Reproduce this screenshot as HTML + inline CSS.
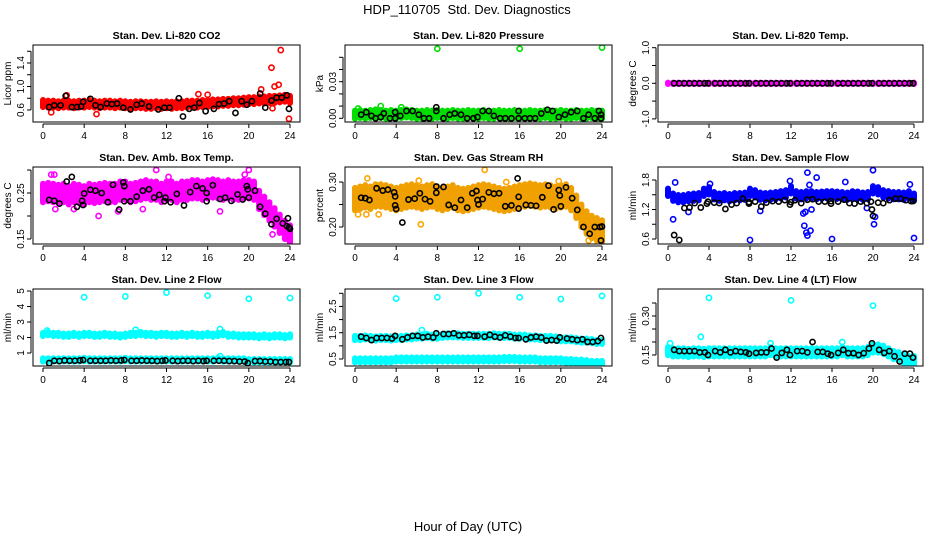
<!DOCTYPE html>
<html><head><meta charset="utf-8"><style>
html,body{margin:0;padding:0;background:#fff;}
svg{display:block;font-family:"Liberation Sans",Arial,sans-serif;}
</style></head><body>
<svg id="c" width="936" height="540" viewBox="0 0 936 540">
<text x="467" y="14" font-size="13" text-anchor="middle" style="white-space:pre">HDP_110705  Std. Dev. Diagnostics</text>
<text x="468" y="531" font-size="13" text-anchor="middle">Hour of Day (UTC)</text>
</svg>
<script>
// ---- shared data ----
const xTicks=[0,4,8,12,16,20,24];
const bandTimes=[0,0.5,1,1.5,2,2.5,3,3.5,4,4.5,5,5.5,6,6.5,7,7.5,8,8.5,9,9.5,10,10.5,11,11.5,12,12.5,13,13.5,14,14.5,15,15.5,16,16.5,17,17.5,18,18.5,19,19.5,20,20.5,21,21.5,22,22.5,23,23.5,24];

// ---- panel 1: CO2 ----
const co2Band=[0.71,0.70,0.70,0.69,0.70,0.70,0.69,0.70,0.70,0.71,0.70,0.69,0.70,0.70,0.69,0.70,0.69,0.68,0.69,0.69,0.68,0.68,0.69,0.68,0.69,0.68,0.69,0.69,0.70,0.70,0.70,0.71,0.71,0.72,0.72,0.73,0.73,0.74,0.74,0.75,0.76,0.76,0.77,0.77,0.78,0.78,0.79,0.80,0.78];
const co2Out=[[22.2,1.32],[23.1,1.62],[22.5,1.0],[22.9,1.03],[23.9,0.45],[15.1,0.87],[5.2,0.53],[2.3,0.85],[21.2,0.95],[22.3,0.63],[16,0.86],[0.8,0.56]];
const co2Black=[[0.6,0.65],[1.1,0.68],[1.7,0.68],[2.2,0.84],[2.8,0.65],[3.3,0.65],[3.7,0.66],[3.9,0.74],[4.6,0.79],[5.1,0.68],[5.6,0.65],[6.2,0.71],[6.7,0.70],[7.2,0.71],[7.8,0.64],[8.5,0.61],[9.1,0.69],[9.6,0.71],[10.3,0.66],[11.2,0.61],[11.8,0.64],[12.3,0.64],[13.2,0.80],[13.6,0.49],[14.2,0.62],[14.7,0.64],[15.2,0.72],[15.8,0.58],[16.6,0.62],[17.1,0.70],[17.6,0.71],[18.1,0.75],[18.7,0.55],[19.3,0.75],[19.8,0.69],[20.3,0.75],[21.1,0.88],[21.6,0.64],[22.2,0.76],[22.7,0.81],[23.2,0.81],[23.7,0.85],[23.9,0.62]];

// ---- panel 2: pressure ----
const prBand=[0.003,0.0035,0.003,0.0035,0.004,0.0035,0.003,0.0035,0.003,0.0035,0.004,0.0035,0.003,0.003,0.0035,0.003,0.0035,0.003,0.003,0.0035,0.003,0.003,0.0035,0.003,0.003,0.0035,0.003,0.003,0.0035,0.003,0.003,0.0035,0.003,0.003,0.0035,0.003,0.003,0.0035,0.003,0.003,0.0035,0.003,0.003,0.0035,0.003,0.003,0.0035,0.003,0.003];
const prOut=[[8,0.057],[16,0.057],[24,0.058],[0.3,0.008],[2.5,0.01],[4.5,0.009]];
const prBlack=[[0.6,0.003],[1.1,0.005],[1.6,0.002],[2,0.0],[2.5,0.001],[2.8,0.004],[3.4,0],[3.9,0.0],[3.9,0.005],[4.4,0.002],[5.0,0.006],[5.6,0.006],[6.2,0.003],[6.7,0],[7.2,0],[7.9,0.009],[7.9,0.006],[8.6,0],[9.2,0.003],[9.7,0.004],[10.3,0.003],[10.9,0],[11.5,0],[11.9,0.001],[12.4,0.006],[13.0,0.006],[13.5,0.002],[14.1,0],[14.6,0],[15.2,0],[15.9,0.006],[15.9,0.0],[16.5,0],[17.0,0],[17.5,0],[18.1,0.004],[18.7,0.007],[19.2,0.006],[19.8,0.001],[20.4,0.003],[21.0,0.005],[21.6,0.006],[22.2,0],[22.7,0.003],[23.3,0],[23.7,0.006],[23.9,0.003],[23.9,0.0]];

// ---- panel 3: Li-820 temp ----
const tmBand=[0,0,0,0,0,0,0,0,0,0,0,0,0,0,0,0,0,0,0,0,0,0,0,0,0,0,0,0,0,0,0,0,0,0,0,0,0,0,0,0,0,0,0,0,0,0,0,0,0];
const tmOut=[];
const tmBlack=[[0.6,0],[1.1,0],[1.6,0],[2.1,0],[2.6,0],[3.1,0],[3.6,0],[3.9,0],[4.6,0],[5.1,0],[5.6,0],[6.1,0],[6.6,0],[7.1,0],[7.6,0],[7.9,0],[8.6,0],[9.1,0],[9.6,0],[10.1,0],[10.6,0],[11.1,0],[11.6,0],[11.9,0],[12.6,0],[13.1,0],[13.6,0],[14.1,0],[14.6,0],[15.1,0],[15.6,0],[15.9,0],[16.6,0],[17.1,0],[17.6,0],[18.1,0],[18.6,0],[19.1,0],[19.6,0],[19.9,0],[20.6,0],[21.1,0],[21.6,0],[22.1,0],[22.6,0],[23.1,0],[23.6,0],[23.9,0]];

// ---- panel 4: amb box temp ----
const abBand=[0.25,0.252,0.25,0.248,0.25,0.245,0.25,0.248,0.245,0.25,0.248,0.25,0.252,0.25,0.25,0.255,0.255,0.25,0.252,0.255,0.258,0.255,0.255,0.25,0.255,0.255,0.25,0.255,0.255,0.258,0.258,0.255,0.258,0.26,0.258,0.255,0.258,0.255,0.255,0.258,0.258,0.255,0.235,0.222,0.21,0.197,0.183,0.17,0.16];
const abOut=[[0.8,0.29],[1.1,0.29],[11,0.30],[19.6,0.29],[20,0.30],[5.4,0.20],[3,0.215],[1.2,0.215],[7.3,0.21],[17.2,0.21],[23.8,0.15],[12.2,0.285],[9.7,0.215],[22.3,0.16]];
const abBlack=[[0.6,0.235],[1.1,0.233],[1.6,0.227],[2.3,0.275],[2.8,0.285],[3.3,0.22],[3.8,0.233],[3.9,0.224],[4.0,0.249],[4.6,0.257],[5.1,0.255],[5.7,0.25],[6.3,0.23],[6.8,0.268],[7.4,0.214],[7.8,0.273],[7.9,0.265],[7.9,0.232],[8.5,0.232],[9.1,0.242],[9.7,0.255],[10.3,0.258],[10.8,0.24],[11.3,0.246],[11.8,0.232],[11.9,0.24],[12.4,0.23],[13.0,0.248],[13.7,0.223],[14.3,0.252],[14.9,0.265],[15.5,0.26],[15.9,0.25],[15.9,0.232],[16.5,0.267],[17.2,0.237],[17.7,0.24],[18.3,0.233],[18.9,0.247],[19.4,0.236],[19.8,0.265],[19.9,0.258],[20.0,0.24],[20.6,0.255],[21.1,0.22],[21.6,0.205],[22.2,0.182],[22.7,0.194],[23.3,0.184],[23.7,0.178],[23.8,0.195],[23.9,0.175],[24,0.172]];

// ---- panel 5: gas stream RH ----
const rhBand=[0.262,0.265,0.268,0.265,0.27,0.27,0.268,0.265,0.262,0.265,0.268,0.27,0.268,0.265,0.268,0.27,0.265,0.262,0.265,0.268,0.262,0.26,0.262,0.265,0.268,0.27,0.268,0.265,0.262,0.26,0.262,0.265,0.268,0.27,0.272,0.27,0.268,0.27,0.268,0.265,0.268,0.27,0.262,0.245,0.225,0.21,0.2,0.195,0.19];
const rhOut=[[12.6,0.327],[0.3,0.228],[1.1,0.228],[6.4,0.206],[2.3,0.228],[14.7,0.30],[1.2,0.308],[6.2,0.303],[19.8,0.302],[22.7,0.17],[23.6,0.165]];
const rhBlack=[[0.6,0.265],[1.0,0.264],[1.4,0.26],[2.1,0.286],[2.7,0.281],[3.2,0.283],[3.8,0.277],[3.9,0.268],[3.9,0.248],[4.0,0.24],[4.6,0.21],[5.2,0.261],[5.8,0.263],[6.3,0.275],[6.8,0.262],[7.3,0.257],[7.9,0.29],[7.9,0.276],[8.6,0.289],[9.1,0.249],[9.7,0.243],[10.3,0.26],[10.9,0.243],[11.4,0.275],[11.8,0.28],[11.9,0.26],[12.0,0.25],[12.4,0.262],[13.0,0.277],[13.5,0.274],[14.0,0.275],[14.6,0.246],[15.2,0.248],[15.8,0.308],[15.9,0.267],[15.9,0.241],[16.6,0.249],[17.1,0.248],[17.6,0.247],[18.2,0.266],[18.8,0.292],[19.3,0.239],[19.8,0.282],[19.9,0.27],[20.0,0.246],[20.5,0.288],[21.1,0.264],[21.6,0.238],[22.2,0.2],[22.8,0.185],[23.3,0.2],[23.8,0.2],[23.9,0.17],[24,0.201]];

// ---- panel 6: sample flow ----
const sfBand=[1.55,1.45,1.42,1.42,1.44,1.45,1.46,1.55,1.58,1.48,1.45,1.46,1.44,1.46,1.46,1.47,1.55,1.52,1.47,1.46,1.47,1.48,1.5,1.52,1.6,1.5,1.48,1.5,1.5,1.48,1.49,1.5,1.5,1.49,1.48,1.47,1.5,1.49,1.47,1.48,1.6,1.58,1.52,1.5,1.48,1.48,1.47,1.5,1.45];
const sfOut=[[0.5,1.0],[0.7,1.75],[2,1.15],[8,0.58],[9,1.17],[11.9,1.78],[13.2,1.12],[13.3,0.87],[13.4,1.15],[13.5,0.73],[13.6,1.95],[13.6,0.67],[13.8,1.70],[13.9,0.77],[14,1.2],[14.5,1.85],[16,0.6],[17.3,1.76],[19.4,1.23],[20,2.0],[20.1,0.9],[20.2,1.05],[24,0.62],[23.6,1.71],[4.1,1.72]];
const sfBlack=[[0.6,0.68],[1.1,0.58],[1.6,1.23],[2.1,1.24],[2.6,1.33],[3.2,1.24],[3.8,1.32],[3.9,1.36],[4.5,1.34],[5.0,1.33],[5.6,1.21],[6.2,1.30],[6.7,1.33],[7.3,1.42],[7.9,1.35],[7.9,1.32],[8.5,1.36],[9.1,1.26],[9.6,1.34],[10.2,1.37],[10.8,1.36],[11.4,1.39],[11.9,1.3],[12,1.35],[12.4,1.39],[13.0,1.33],[13.6,1.4],[14.1,1.41],[14.7,1.36],[15.3,1.36],[15.9,1.37],[15.9,1.32],[16.6,1.36],[17.2,1.4],[17.7,1.33],[18.2,1.32],[18.8,1.36],[19.4,1.33],[19.8,1.36],[19.9,1.2],[20,1.07],[20.5,1.34],[21.0,1.33],[21.6,1.39],[22.2,1.42],[22.7,1.42],[23.2,1.39],[23.7,1.37],[23.9,1.37]];

// ---- panel 7: line 2 flow ----
const l2BandA=[2.2,2.25,2.2,2.2,2.15,2.15,2.2,2.15,2.2,2.2,2.15,2.15,2.2,2.15,2.15,2.1,2.15,2.2,2.2,2.25,2.2,2.2,2.15,2.2,2.2,2.15,2.15,2.2,2.15,2.2,2.15,2.15,2.2,2.15,2.2,2.25,2.15,2.15,2.1,2.1,2.1,2.1,2.05,2.1,2.05,2.1,2.1,2.05,2.1];
const l2BandB=[0.55,0.55,0.55,0.55,0.55,0.55,0.55,0.55,0.58,0.55,0.55,0.55,0.55,0.55,0.55,0.55,0.58,0.55,0.55,0.55,0.55,0.55,0.55,0.55,0.55,0.55,0.55,0.55,0.55,0.55,0.55,0.55,0.55,0.55,0.6,0.55,0.55,0.55,0.55,0.55,0.5,0.5,0.5,0.5,0.5,0.5,0.5,0.5,0.5];
const l2Out=[[4,4.6],[8,4.65],[12,4.9],[16,4.7],[20,4.5],[24,4.55],[0.4,2.45],[9,2.5],[17.2,2.55],[17.2,0.8]];
const l2Black=[[0.6,0.35],[1.1,0.5],[1.6,0.48],[2.1,0.52],[2.6,0.5],[3.1,0.5],[3.6,0.52],[3.9,0.55],[4.6,0.5],[5.1,0.5],[5.6,0.5],[6.1,0.5],[6.6,0.52],[7.1,0.5],[7.6,0.52],[7.9,0.55],[8.6,0.5],[9.1,0.5],[9.6,0.52],[10.1,0.5],[10.6,0.5],[11.1,0.48],[11.6,0.5],[11.9,0.52],[12.6,0.5],[13.1,0.48],[13.6,0.5],[14.1,0.5],[14.6,0.48],[15.1,0.5],[15.6,0.48],[15.9,0.5],[16.6,0.5],[17.1,0.5],[17.6,0.5],[18.1,0.48],[18.6,0.48],[19.1,0.45],[19.6,0.45],[19.9,0.35],[20.6,0.48],[21.1,0.48],[21.6,0.45],[22.1,0.45],[22.6,0.42],[23.1,0.42],[23.6,0.42],[23.9,0.42]];

// ---- panel 8: line 3 flow ----
const l3BandA=[1.3,1.3,1.32,1.3,1.28,1.3,1.3,1.28,1.3,1.3,1.32,1.32,1.35,1.35,1.38,1.35,1.35,1.38,1.4,1.4,1.4,1.38,1.38,1.38,1.38,1.38,1.38,1.4,1.38,1.38,1.38,1.35,1.35,1.35,1.32,1.32,1.3,1.3,1.3,1.28,1.25,1.25,1.25,1.22,1.2,1.2,1.18,1.15,1.15];
const l3BandB=[0.45,0.45,0.45,0.45,0.45,0.45,0.45,0.45,0.48,0.48,0.48,0.48,0.48,0.48,0.48,0.48,0.48,0.48,0.48,0.48,0.48,0.48,0.48,0.48,0.48,0.48,0.48,0.48,0.48,0.5,0.5,0.5,0.48,0.48,0.48,0.48,0.45,0.45,0.45,0.45,0.45,0.42,0.42,0.4,0.4,0.38,0.35,0.35,0.35];
const l3Out=[[4,2.8],[8,2.85],[12,3.0],[16,2.85],[20,2.78],[24,2.9],[6.5,1.6]];
const l3Black=[[0.6,1.35],[1.1,1.3],[1.6,1.22],[2.1,1.3],[2.6,1.3],[3.1,1.3],[3.6,1.28],[3.9,1.38],[4.6,1.25],[5.1,1.32],[5.6,1.38],[6.1,1.38],[6.6,1.32],[7.1,1.35],[7.6,1.32],[7.9,1.48],[8.6,1.45],[9.1,1.45],[9.6,1.48],[10.1,1.4],[10.6,1.4],[11.1,1.42],[11.6,1.38],[11.9,1.38],[12.6,1.35],[13.1,1.42],[13.6,1.35],[14.1,1.32],[14.6,1.4],[15.1,1.35],[15.6,1.3],[15.9,1.3],[16.6,1.25],[17.1,1.32],[17.6,1.35],[18.1,1.32],[18.6,1.2],[19.1,1.22],[19.6,1.2],[19.9,1.32],[20.6,1.28],[21.1,1.25],[21.6,1.22],[22.1,1.25],[22.6,1.15],[23.1,1.15],[23.6,1.18],[23.9,1.3]];

// ---- panel 9: line 4 flow ----
const l4Band=[0.165,0.16,0.16,0.16,0.158,0.16,0.16,0.158,0.16,0.16,0.16,0.16,0.16,0.16,0.16,0.16,0.16,0.16,0.16,0.16,0.165,0.16,0.16,0.16,0.16,0.16,0.16,0.16,0.16,0.16,0.16,0.16,0.16,0.16,0.165,0.16,0.16,0.16,0.16,0.165,0.175,0.175,0.17,0.16,0.15,0.145,0.135,0.13,0.13];
const l4Out=[[4,0.37],[12,0.36],[20,0.34],[3.2,0.22],[17,0.2],[0.2,0.195],[10,0.195]];
const l4Black=[[0.6,0.17],[1.1,0.165],[1.6,0.165],[2.1,0.165],[2.6,0.165],[3.1,0.16],[3.6,0.16],[3.9,0.15],[4.6,0.165],[5.1,0.16],[5.6,0.17],[6.1,0.16],[6.6,0.165],[7.1,0.162],[7.6,0.16],[7.9,0.155],[8.6,0.158],[9.1,0.16],[9.6,0.16],[10.1,0.175],[10.6,0.14],[11.1,0.158],[11.6,0.17],[11.9,0.15],[12.6,0.165],[13.1,0.165],[13.6,0.16],[14.1,0.2],[14.6,0.162],[15.1,0.162],[15.6,0.155],[15.9,0.15],[16.6,0.158],[17.1,0.17],[17.6,0.157],[18.1,0.157],[18.6,0.15],[19.1,0.157],[19.6,0.175],[19.9,0.195],[20.6,0.17],[21.1,0.158],[21.6,0.165],[22.1,0.145],[22.6,0.125],[23.1,0.155],[23.6,0.155],[23.9,0.14]];

// ---- layout (style) ----
const NS='http://www.w3.org/2000/svg';
const svg=document.getElementById('c');
const colX=[{l:33,r:300,t0:43,t24:290},{l:345,r:612,t0:355,t24:602},{l:658,r:923,t0:668,t24:914}];
const rowY=[{t:45,b:122},{t:167,b:244},{t:289,b:366}];
function mk(tag,attrs,parent){const e=document.createElementNS(NS,tag);for(const k in attrs)e.setAttribute(k,attrs[k]);(parent||svg).appendChild(e);return e;}

const panels=[
 {id:'co2',title:'Stan. Dev. Li-820 CO2',ylab:'Licor ppm',c:0,r:0,v1:0.6,y1:110,v2:1.4,y2:63,ticks:[0.6,0.8,1.0,1.2,1.4,1.6],labels:['0.6','1.0','1.4'],bands:[co2Band],spread:0.06,col:'#ff0000',out:co2Out,blk:co2Black},
 {id:'pressure',title:'Stan. Dev. Li-820 Pressure',ylab:'kPa',c:1,r:0,v1:0,y1:118.3,v2:0.03,y2:81.7,ticks:[0,0.01,0.02,0.03,0.04,0.05],labels:['0.00','0.03'],bands:[prBand],spread:0.0033,col:'#00dd00',out:prOut,blk:prBlack},
 {id:'li820-temp',title:'Stan. Dev. Li-820 Temp.',ylab:'degrees C',c:2,r:0,v1:0,y1:83.3,v2:1,y2:47.7,ticks:[-1,-0.5,0,0.5,1],labels:['-1.0','0.0','1.0'],bands:[tmBand],spread:0.02,col:'#ff00ff',out:tmOut,blk:tmBlack},
 {id:'amb-box-temp',title:'Stan. Dev. Amb. Box Temp.',ylab:'degrees C',c:0,r:1,v1:0.25,y1:193,v2:0.15,y2:239,ticks:[0.15,0.20,0.25,0.30],labels:['0.15','0.25'],bands:[abBand],spread:0.02,col:'#ff00ff',out:abOut,blk:abBlack},
 {id:'gas-stream-rh',title:'Stan. Dev. Gas Stream RH',ylab:'percent',c:1,r:1,v1:0.30,y1:182,v2:0.20,y2:227,ticks:[0.20,0.25,0.30],labels:['0.20','0.30'],bands:[rhBand],spread:0.025,col:'#f0a000',out:rhOut,blk:rhBlack,outCol:'#ffa500'},
 {id:'sample-flow',title:'Stan. Dev. Sample Flow',ylab:'ml/min',c:2,r:1,v1:1.8,y1:180,v2:0.6,y2:239,ticks:[0.6,0.9,1.2,1.5,1.8],labels:['0.6','1.2','1.8'],bands:[sfBand],spread:0.075,col:'#0000ff',out:sfOut,blk:sfBlack},
 {id:'line2-flow',title:'Stan. Dev. Line 2 Flow',ylab:'ml/min',c:0,r:2,v1:5,y1:291,v2:1,y2:353,ticks:[1,2,3,4,5],labels:['1','2','3','4','5'],bands:[l2BandA,l2BandB],spread:0.11,col:'#00ffff',out:l2Out,blk:l2Black},
 {id:'line3-flow',title:'Stan. Dev. Line 3 Flow',ylab:'ml/min',c:1,r:2,v1:3.0,y1:293.3,v2:0.5,y2:359,ticks:[0.5,1,1.5,2,2.5,3],labels:['0.5','1.5','2.5'],bands:[l3BandA,l3BandB],spread:0.08,col:'#00ffff',out:l3Out,blk:l3Black},
 {id:'line4-flow',title:'Stan. Dev. Line 4 (LT) Flow',ylab:'ml/min',c:2,r:2,v1:0.30,y1:316,v2:0.15,y2:355,ticks:[0.15,0.20,0.25,0.30,0.35],labels:['0.15','0.30'],bands:[l4Band],spread:0.016,col:'#00ffff',out:l4Out,blk:l4Black}
];

panels.forEach(p=>{
  const cx=colX[p.c], ry=rowY[p.r];
  const X=t=>cx.t0+(cx.t24-cx.t0)*t/24;
  const Y=v=>p.y1+(v-p.v1)*(p.y2-p.y1)/(p.v2-p.v1);
  const g=mk('g',{});
  
  
  const cp=mk('clipPath',{id:'clip-'+p.id},g);
  mk('rect',{x:cx.l,y:ry.t,width:cx.r-cx.l,height:ry.b-ry.t},cp);
  const t=mk('text',{x:(cx.l+cx.r)/2,y:ry.t-6,'font-size':10.5,'font-weight':'bold','text-anchor':'middle'},g);
  t.textContent=p.title;
  
  
  const yl=mk('text',{x:0,y:0,'font-size':10,'text-anchor':'middle',transform:`translate(${cx.l-22},${(ry.t+ry.b)/2}) rotate(-90)`},g);
  yl.textContent=p.ylab;
  
  
  const marks=mk('g',{'clip-path':`url(#clip-${p.id})`},g);
  
  
  p.bands.forEach(band=>{
    band.forEach((m,i)=>{
      const x=X(bandTimes[i]);
      const ln=mk('line',{x1:x,x2:x,y1:Y(m-p.spread),y2:Y(m+p.spread),stroke:p.col,'stroke-width':6,'stroke-linecap':'round'},marks);
      
      
    });
  });
  p.out.forEach(d=>{
    const c=mk('circle',{cx:X(d[0]),cy:Y(d[1]),r:2.6,fill:'none',stroke:p.outCol||p.col,'stroke-width':1.6},marks);
    
    
  });
  p.blk.forEach(d=>{
    const c=mk('circle',{cx:X(d[0]),cy:Y(d[1]),r:2.6,fill:'none',stroke:'#000','stroke-width':1.6},marks);
    
    
  });
  const box=mk('rect',{x:cx.l,y:ry.t,width:cx.r-cx.l,height:ry.b-ry.t,fill:'none',stroke:'#000','stroke-width':1},g);
  
  
  mk('line',{x1:X(0),x2:X(24),y1:ry.b+2,y2:ry.b+2,stroke:'#000'},g);
  xTicks.forEach(tv=>{
    mk('line',{x1:X(tv),x2:X(tv),y1:ry.b+2,y2:ry.b+6,stroke:'#000'},g);
    const tl=mk('text',{x:X(tv),y:ry.b+17,'font-size':10,'text-anchor':'middle'},g);
    tl.textContent=String(tv);
    
    
  });
  const ys=p.ticks.map(Y);
  mk('line',{x1:cx.l-2,x2:cx.l-2,y1:Math.min(...ys),y2:Math.max(...ys),stroke:'#000'},g);
  p.ticks.forEach(tv=>{
    mk('line',{x1:cx.l-6,x2:cx.l-2,y1:Y(tv),y2:Y(tv),stroke:'#000'},g);
  });
  p.labels.forEach(lb=>{
    const v=parseFloat(lb);
    const tl=mk('text',{x:0,y:0,'font-size':10,'text-anchor':'middle',transform:`translate(${cx.l-9},${Y(v)}) rotate(-90)`},g);
    tl.textContent=lb;
    
    
  });
});
</script>
</body></html>
